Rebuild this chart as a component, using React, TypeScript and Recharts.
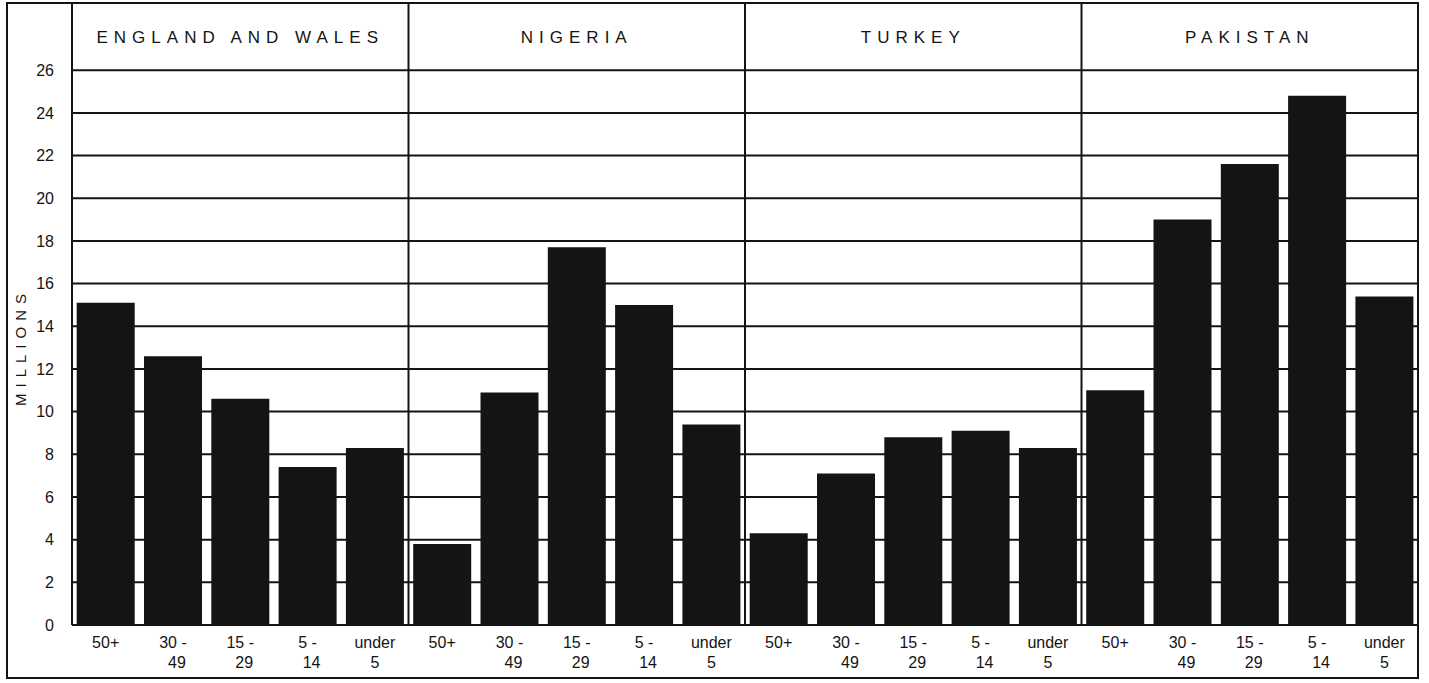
import React from "react";
import {
  BarChart,
  Bar,
  XAxis,
  YAxis,
  CartesianGrid,
  ReferenceLine,
  ReferenceArea,
} from "recharts";

const countries = ["ENGLAND AND WALES", "NIGERIA", "TURKEY", "PAKISTAN"];
const ageGroups = ["50+", "30-49", "15-29", "5-14", "under 5"];

// millions, per age group in the order above
const englandWales = [15.1, 12.6, 10.6, 7.4, 8.3];
const nigeria = [3.8, 10.9, 17.7, 15.0, 9.4];
const turkey = [4.3, 7.1, 8.8, 9.1, 8.3];
const pakistan = [11.0, 19.0, 21.6, 24.8, 15.4];

const yTicks = [0, 2, 4, 6, 8, 10, 12, 14, 16, 18, 20, 22, 24, 26];

const seriesByCountry = [englandWales, nigeria, turkey, pakistan];

const keyOf = (country: string, age: string) => `${country}|${age}`;

const data = countries.flatMap((country, ci) =>
  ageGroups.map((age, ai) => ({
    key: keyOf(country, age),
    age,
    value: seriesByCountry[ci][ai],
  }))
);

const INK = "#141414";
const FONT = "'Liberation Sans', Arial, sans-serif";

function AgeTick(props: any) {
  const { x, y, payload } = props;
  const age: string = data[payload.index]?.age ?? "";
  let lines: string[];
  if (age.startsWith("under")) lines = ["under", "5"];
  else if (age.includes("-")) {
    const [a, b] = age.split("-");
    lines = [`${a} -`, b];
  } else lines = [age];
  return (
    <g>
      {lines.map((l, i) => (
        <text
          key={i}
          x={x + (i === 1 && lines[0] !== "under" ? 4 : 0)}
          y={y + 15 + i * 20}
          textAnchor="middle"
          fill={INK}
          fontSize={16}
          fontFamily={FONT}
        >
          {l}
        </text>
      ))}
    </g>
  );
}

function header(text: string) {
  return (props: any) => {
    const vb = props.viewBox || {};
    return (
      <text
        x={vb.x + vb.width / 2}
        y={vb.y + vb.height / 2 + 6}
        textAnchor="middle"
        fill={INK}
        fontSize={17}
        letterSpacing={6}
        fontFamily={FONT}
      >
        {text}
      </text>
    );
  };
}

function millionsLabel() {
  return (
    <text
      x={26}
      y={347}
      transform="rotate(-90 26 347)"
      textAnchor="middle"
      fill={INK}
      fontSize={15}
      letterSpacing={6}
      fontFamily={FONT}
    >
      MILLIONS
    </text>
  );
}

export default function App() {
  return (
    <div style={{ position: "absolute", left: 0, top: 0, width: 1429, height: 683, background: "#fff" }}>
      <div
        style={{
          position: "absolute",
          left: 6,
          top: 2,
          width: 1413,
          height: 677,
          border: "2px solid #141414",
          boxSizing: "border-box",
        }}
      />
      <div style={{ position: "absolute", left: 0, top: 0 }}>
        <BarChart
          width={1429}
          height={683}
          data={data}
          margin={{ top: 3, right: 11, bottom: 8, left: 5 }}
          barCategoryGap="7%"
        >
          <CartesianGrid horizontal vertical={false} stroke={INK} strokeWidth={2} />
          <XAxis
            dataKey="key"
            interval={0}
            height={50}
            tickLine={false}
            axisLine={{ stroke: INK, strokeWidth: 2 }}
            tick={<AgeTick />}
          />
          <YAxis
            type="number"
            domain={[0, 29.15]}
            ticks={yTicks}
            width={67}
            tickLine={false}
            tickMargin={12}
            axisLine={{ stroke: INK, strokeWidth: 2 }}
            tick={{ fill: INK, fontSize: 16, fontFamily: FONT }}
            label={millionsLabel}
          />
          {countries.map((c) => (
            <ReferenceArea
              key={c}
              x1={keyOf(c, ageGroups[0])}
              x2={keyOf(c, ageGroups[ageGroups.length - 1])}
              y1={26}
              y2={29.15}
              fill="none"
              stroke="none"
              ifOverflow="visible"
              label={header(c)}
            />
          ))}
          {countries.slice(1).map((c) => (
            <ReferenceLine
              key={c}
              x={keyOf(c, ageGroups[0])}
              position="start"
              stroke={INK}
              strokeWidth={2}
            />
          ))}
          <Bar dataKey="value" fill={INK} isAnimationActive={false} />
        </BarChart>
      </div>
    </div>
  );
}
